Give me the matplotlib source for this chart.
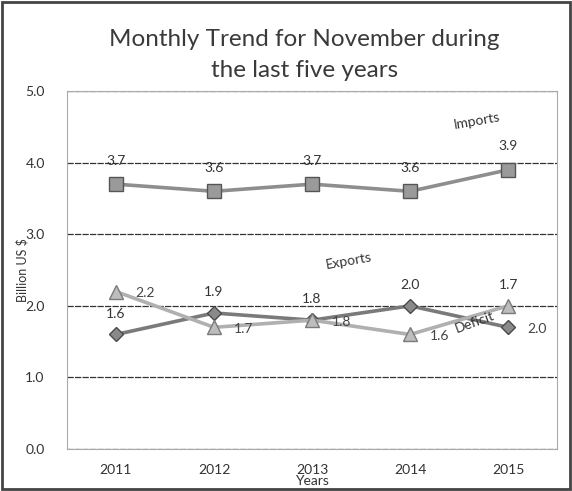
# Monthly trend chart for November (scanned report figure)
import matplotlib
matplotlib.use("Agg")
import matplotlib.pyplot as plt
from matplotlib.patches import Rectangle

years = ["2011", "2012", "2013", "2014", "2015"]
imports = [3.7, 3.6, 3.7, 3.6, 3.9]
exports = [1.6, 1.9, 1.8, 2.0, 1.7]
deficit = [2.2, 1.7, 1.8, 1.6, 2.0]
yticks = [0.0, 1.0, 2.0, 3.0, 4.0, 5.0]

plt.rcParams['font.family'] = ['Lato', 'DejaVu Sans']

fig = plt.figure(figsize=(5.72, 4.91), dpi=100)
ax = fig.add_axes([0.117, 0.0855, 0.857, 0.729])
x = list(range(len(years)))

ax.plot(x, imports, color='#8e8e8e', lw=2.6, marker='s', ms=10,
        mfc='#9a9a9a', mec='#555555', mew=1.0, zorder=3)
ax.plot(x, exports, color='#7a7a7a', lw=2.6, marker='D', ms=7,
        mfc='#8a8a8a', mec='#4a4a4a', mew=1.0, zorder=3)
ax.plot(x, deficit, color='#b0b0b0', lw=2.6, marker='^', ms=10,
        mfc='#bdbdbd', mec='#7a7a7a', mew=1.0, zorder=3)

# data labels
for i, v in enumerate(imports):
    ax.annotate("%.1f" % v, (i, v), xytext=(0, 17), textcoords='offset points',
                ha='center', va='center', fontsize=10, color='#333333')

# in the original the 2015 labels sit on the other line
anchor_e = list(exports)
anchor_d = list(deficit)
anchor_e[-1], anchor_d[-1] = deficit[-1], exports[-1]
for i, v in enumerate(exports):
    ax.annotate("%.1f" % v, (i, anchor_e[i]), xytext=(0, 15), textcoords='offset points',
                ha='center', va='center', fontsize=10, color='#333333')
for i, v in enumerate(deficit):
    ax.annotate("%.1f" % v, (i, anchor_d[i]), xytext=(21, -1), textcoords='offset points',
                ha='center', va='center', fontsize=10, color='#444444')

# series names
ax.text(3.68, 4.58, "Imports", rotation=10, fontsize=10, color='#333333', ha='center', va='center')
ax.text(2.37, 2.62, "Exports", rotation=10, fontsize=10, color='#333333', ha='center', va='center')
ax.text(3.66, 1.77, "Deficit", rotation=20, fontsize=10, color='#333333', ha='center', va='center')

ax.set_xlim(-0.5, len(years) - 0.5)
ax.set_ylim(0, 5)
ax.set_yticks(yticks)
ax.set_yticklabels(["%.1f" % t for t in yticks], fontsize=10, color='#333333')
ax.set_xticks(x)
ax.set_xticklabels(years, fontsize=10, color='#333333')
ax.tick_params(length=0, pad=16)
ax.tick_params(axis='x', pad=11)
ax.grid(axis='y', color='#333333', lw=0.9, ls=(0, (5, 1)))
ax.set_axisbelow(True)
for s in ax.spines.values():
    s.set_color('#aaaaaa')
    s.set_linewidth(0.8)

ax.set_xlabel("Years", fontsize=10, color='#333333', labelpad=-1)
ax.set_ylabel("Billion US $", fontsize=9, color='#333333', labelpad=-2)

fig.text(0.532, 0.888, "Monthly Trend for November during\nthe last five years",
         ha='center', va='center', fontsize=17.5, color='#3a3a3a', linespacing=1.6)

fig.patches.append(Rectangle((0.004, 0.004), 0.992, 0.992, transform=fig.transFigure,
                             fill=False, ec='#444444', lw=2))

fig.savefig("out.png", dpi=100)
